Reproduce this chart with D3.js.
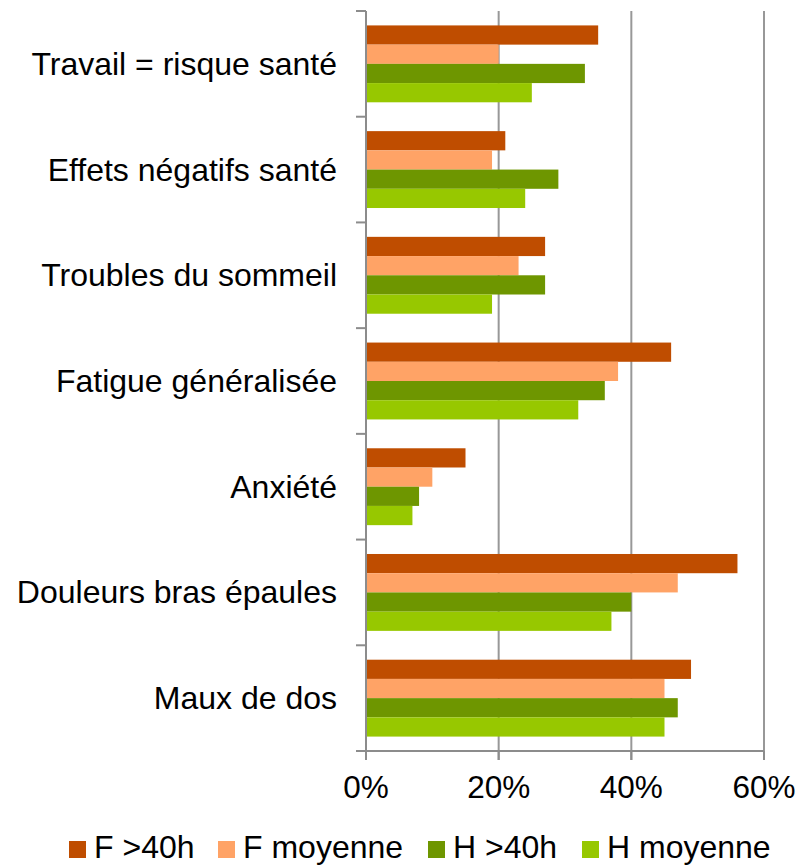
<!DOCTYPE html>
<html><head><meta charset="utf-8">
<script src="https://cdn.jsdelivr.net/npm/d3@7"></script>
<style>body{margin:0;background:#fff}svg{display:block}</style>
</head><body>
<script>
const categories = ["Travail = risque santé","Effets négatifs santé","Troubles du sommeil","Fatigue généralisée","Anxiété","Douleurs bras épaules","Maux de dos"];
const seriesNames = ["F >40h","F moyenne","H >40h","H moyenne"];
const seriesColors = ["#BF4D00","#FFA366","#6E9600","#97C800"];
const fOver40 = [35,21,27,46,15,56,49];
const fAvg = [20,19,23,38,10,47,45];
const hOver40 = [33,29,27,36,8,40,47];
const hAvg = [25,24,19,32,7,37,45];
const xTicks = [0,20,40,60];
const seriesValues = [fOver40,fAvg,hOver40,hAvg];

const W=807,H=865;
const svg=d3.select("body").append("svg").attr("width",W).attr("height",H);
const font="Liberation Sans, Arial, sans-serif";
const x=d3.scaleLinear().domain([0,60]).range([366,764]);
const y=d3.scaleBand().domain(categories).range([11,751]).paddingInner(0).paddingOuter(0);
const inner=d3.scaleBand().domain(seriesNames).range([0,y.bandwidth()]).paddingInner(0).paddingOuter(0.75);

// gridlines
svg.append("g").selectAll("line").data(xTicks.slice(1)).join("line")
  .attr("x1",d=>x(d)).attr("x2",d=>x(d)).attr("y1",11).attr("y2",760)
  .attr("stroke","#989898").attr("stroke-width",2);

// bars
categories.forEach((c,i)=>{
  const g=svg.append("g").attr("transform",`translate(0,${y(c)})`);
  g.selectAll("rect").data(seriesNames.map((s,j)=>({s,v:seriesValues[j][i],col:seriesColors[j]}))).join("rect")
    .attr("x",x(0)).attr("y",d=>inner(d.s)).attr("width",d=>x(d.v)-x(0)).attr("height",inner.bandwidth())
    .attr("fill",d=>d.col);
});

// y axis
const yAxisG=svg.append("g");
yAxisG.append("line").attr("x1",366).attr("x2",366).attr("y1",11).attr("y2",751).attr("stroke","#8c8c8c").attr("stroke-width",2);
const yTickPos=categories.map(c=>y(c)).concat([y.range()[1]]);
yAxisG.selectAll("line.t").data(yTickPos).join("line").attr("class","t")
  .attr("x1",356).attr("x2",366).attr("y1",d=>d).attr("y2",d=>d).attr("stroke","#8c8c8c").attr("stroke-width",2);
yAxisG.selectAll("text").data(categories).join("text")
  .attr("x",337).attr("y",c=>y(c)+y.bandwidth()/2+11)
  .attr("text-anchor","end").attr("font-family",font).attr("font-size",32).attr("fill","#000").text(c=>c);

// x axis
const xAxisG=svg.append("g");
xAxisG.append("line").attr("x1",356).attr("x2",764).attr("y1",751).attr("y2",751).attr("stroke","#8c8c8c").attr("stroke-width",2);
xAxisG.selectAll("line.t").data(xTicks).join("line").attr("class","t")
  .attr("x1",d=>x(d)).attr("x2",d=>x(d)).attr("y1",751).attr("y2",760).attr("stroke","#8c8c8c").attr("stroke-width",2);
xAxisG.selectAll("text").data(xTicks).join("text")
  .attr("x",d=>x(d)).attr("y",798).attr("text-anchor","middle")
  .attr("font-family",font).attr("font-size",31.5).attr("fill","#000").text(d=>d+"%");

// legend
const legX=[69,218,428,582];
const leg=svg.append("g");
seriesNames.forEach((s,j)=>{
  leg.append("rect").attr("x",legX[j]).attr("y",841).attr("width",17).attr("height",17).attr("fill",seriesColors[j]);
  leg.append("text").attr("x",legX[j]+25).attr("y",858).attr("font-family",font).attr("font-size",32).attr("fill","#000").text(s);
});
</script>
</body></html>
